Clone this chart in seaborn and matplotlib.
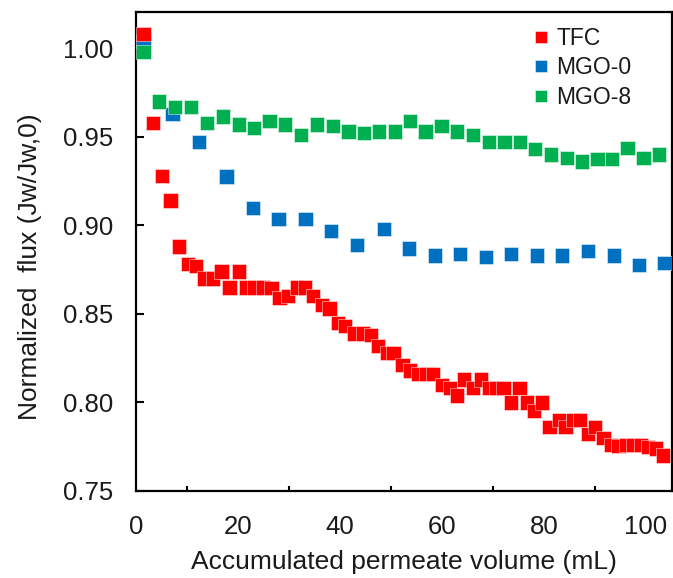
import numpy as np
import pandas as pd
import matplotlib
matplotlib.use("Agg")
import matplotlib.pyplot as plt
import seaborn as sns
from matplotlib.lines import Line2D

# ---- data ----
series_names = ["TFC", "MGO-0", "MGO-8"]
series_colors = ["#FF0000", "#0070C0", "#00B050"]

tfc_x = [1.5, 3.4, 5.2, 6.8, 8.5, 10.2, 11.8, 13.5, 15.2, 16.8, 18.4, 20.2, 21.7, 23.3,
         24.9, 26.6, 28.2, 29.9, 31.6, 33.2, 34.7, 36.5, 38.0, 39.7, 41.0, 42.8, 44.5,
         46.1, 47.5, 49.2, 50.5, 52.3, 53.8, 55.4, 57.0, 58.3, 60.0, 61.6, 63.0, 64.4,
         66.1, 67.6, 69.2, 70.7, 72.1, 73.6, 75.2, 76.7, 78.0, 79.6, 81.1, 82.9, 84.2,
         85.7, 87.1, 88.6, 90.0, 91.7, 93.1, 94.6, 96.1, 97.5, 99.0, 100.4, 101.9, 103.4]
tfc_y = [1.008, 0.958, 0.928, 0.914, 0.888, 0.878, 0.877, 0.870, 0.870, 0.874, 0.865,
         0.874, 0.865, 0.865, 0.865, 0.8645, 0.859, 0.860, 0.865, 0.865, 0.860, 0.855,
         0.853, 0.845, 0.843, 0.839, 0.839, 0.838, 0.832, 0.828, 0.828, 0.821, 0.818,
         0.816, 0.816, 0.816, 0.810, 0.808, 0.804, 0.813, 0.808, 0.813, 0.808, 0.808,
         0.808, 0.800, 0.808, 0.800, 0.795, 0.800, 0.786, 0.790, 0.786, 0.790, 0.790,
         0.782, 0.786, 0.780, 0.776, 0.7755, 0.776, 0.776, 0.776, 0.775, 0.774, 0.770]

mgo0_x = [1.5, 7.2, 12.4, 17.8, 23.0, 28.0, 33.3, 38.3, 43.3, 48.6, 53.6, 58.6, 63.5,
          68.6, 73.6, 78.6, 83.5, 88.6, 93.8, 98.6, 103.6]
mgo0_y = [1.004, 0.963, 0.947, 0.9276, 0.910, 0.9035, 0.9035, 0.897, 0.889, 0.898,
          0.887, 0.883, 0.884, 0.882, 0.884, 0.883, 0.883, 0.8856, 0.883, 0.8775, 0.8787]

mgo8_x = [1.5, 4.6, 7.7, 10.9, 14.0, 17.1, 20.2, 23.2, 26.2, 29.3, 32.4, 35.5, 38.6,
          41.7, 44.7, 47.7, 50.8, 53.8, 56.8, 59.9, 62.9, 66.1, 69.2, 72.3, 75.3, 78.3,
          81.4, 84.5, 87.5, 90.5, 93.4, 96.4, 99.5, 102.5]
mgo8_y = [0.998, 0.970, 0.967, 0.967, 0.958, 0.9615, 0.957, 0.955, 0.959, 0.957, 0.951,
          0.957, 0.956, 0.953, 0.952, 0.953, 0.953, 0.959, 0.953, 0.956, 0.953, 0.951,
          0.947, 0.947, 0.947, 0.943, 0.940, 0.938, 0.936, 0.9376, 0.9376, 0.9436,
          0.938, 0.940]

x_ticks = [0, 20, 40, 60, 80, 100]
y_ticks = [0.75, 0.80, 0.85, 0.90, 0.95, 1.00]

# drawing order: MGO-0 first, then TFC, then MGO-8 on top
df = pd.concat([
    pd.DataFrame({"x": mgo0_x, "y": mgo0_y, "series": "MGO-0"}),
    pd.DataFrame({"x": tfc_x, "y": tfc_y, "series": "TFC"}),
    pd.DataFrame({"x": mgo8_x, "y": mgo8_y, "series": "MGO-8"}),
], ignore_index=True)

sns.set_theme(style="white")
plt.rcParams["font.family"] = ["Liberation Sans", "DejaVu Sans"]

fig = plt.figure(figsize=(6.73, 5.78), dpi=100)
W, H = 673, 578
ax = fig.add_axes([135.7 / W, 1 - 491 / H, (671.5 - 135.7) / W, (491 - 12) / H])

palette = dict(zip(series_names, series_colors))
sns.scatterplot(data=df, x="x", y="y", hue="series", hue_order=series_names,
                palette=palette, marker="s", s=106, linewidth=0.6,
                edgecolor=(1, 1, 1, 0.55), ax=ax, legend=False, zorder=3)

ax.set_xlim(0, 105)
ax.set_ylim(0.75, 1.0205)
ax.set_xticks(x_ticks)
ax.set_xticks([10, 30, 50, 70, 90], minor=True)
ax.set_yticks(y_ticks)
ax.set_yticklabels([f"{v:.2f}" for v in y_ticks])

for sp in ax.spines.values():
    sp.set_visible(True)
    sp.set_color("black")
    sp.set_linewidth(1.6)

tc = "#1a1a1a"
ax.tick_params(axis="both", which="major", direction="in", length=5.5, width=1.5,
               color="black", labelsize=18.5, labelcolor=tc, pad=16)
ax.tick_params(axis="x", which="major", pad=17)
ax.tick_params(axis="x", which="minor", direction="in", length=3.5, width=1.5,
               color="black", bottom=True)
ax.tick_params(axis="y", which="both", left=True, right=False)
ax.tick_params(axis="x", which="both", top=False)

ax.set_xlabel("Accumulated permeate volume (mL)", fontsize=19, color=tc, labelpad=8)
ax.set_ylabel("Normalized  flux (Jw/Jw,0)", fontsize=19, color=tc)
ax.yaxis.set_label_coords(-0.175, 0.468)

handles = [Line2D([0], [0], marker="s", linestyle="none", markersize=9.2,
                  markerfacecolor=c, markeredgecolor=(1, 1, 1, 0.55),
                  markeredgewidth=0.6) for c in series_colors]
leg = ax.legend(handles, series_names, loc="upper left",
                bbox_to_anchor=(530 / W, 1 - 27 / H), bbox_transform=fig.transFigure,
                frameon=False, fontsize=16.5, handlelength=1.0, handletextpad=0.15,
                labelspacing=0.28, borderpad=0, borderaxespad=0)
for t in leg.get_texts():
    t.set_color(tc)

fig.savefig("out.png", dpi=100)
